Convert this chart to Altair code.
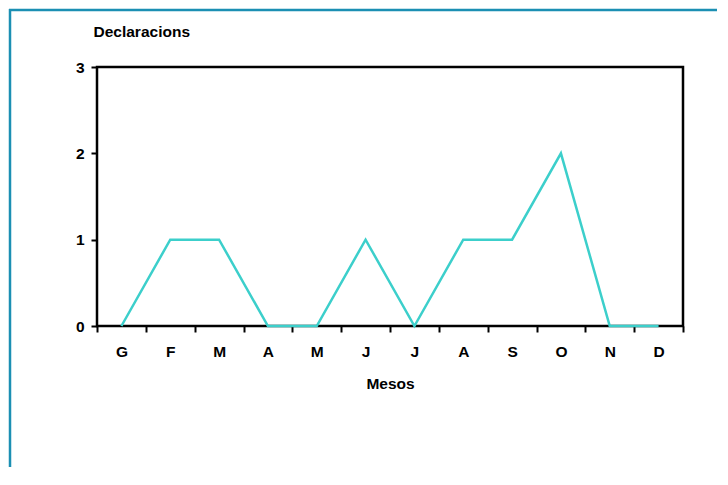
import altair as alt
import pandas as pd

months = ["G", "F", "M", "A", "M", "J", "J", "A", "S", "O", "N", "D"]
values = [0, 1, 1, 0, 0, 1, 0, 1, 1, 2, 0, 0]
y_ticks = [0, 1, 2, 3]

df = pd.DataFrame({"idx": list(range(len(months))), "mes": months, "v": values})
label_expr = "[" + ",".join("'%s'" % m for m in months) + "][datum.value]"

FONT = "Liberation Sans"
FS = 15.5
BORDER = "#1B8FB3"

line = alt.Chart(df).mark_line(color="#3CCFCB", strokeWidth=2.5).encode(
    x=alt.X(
        "idx:O",
        bandPosition=0.5,
        scale=alt.Scale(type="band", paddingInner=0, paddingOuter=0),
        axis=alt.Axis(
            title="Mesos",
            labelExpr=label_expr,
            labelAngle=0,
            tickBand="extent",
            grid=False,
            domain=False,
            tickSize=6,
            tickWidth=2,
            tickColor="black",
            labelPadding=12,
            titlePadding=17,
        ),
    ),
    y=alt.Y(
        "v:Q",
        scale=alt.Scale(domain=[0, 3]),
        axis=alt.Axis(
            title="Declaracions",
            values=y_ticks,
            format="d",
            grid=False,
            domain=False,
            tickSize=6,
            tickWidth=2,
            tickColor="black",
            labelPadding=7,
            titleAngle=0,
            titleAlign="left",
            titleBaseline="middle",
            titleX=-4,
            titleY=-36,
        ),
    ),
)

one = pd.DataFrame({"k": [0]})
border_left = alt.Chart(one).mark_rule(color=BORDER, strokeWidth=2.5, clip=False).encode(
    x=alt.value(-87), y=alt.value(-58), y2=alt.value(400)
)
border_top = alt.Chart(one).mark_rule(color=BORDER, strokeWidth=2.5, clip=False).encode(
    x=alt.value(-88), x2=alt.value(640), y=alt.value(-57)
)

chart = (
    alt.layer(border_left, border_top, line)
    .properties(
        width=586,
        height=259,
        autosize=alt.AutoSizeParams(type="none"),
        padding={"left": 89, "top": 59, "right": 34, "bottom": 141},
    )
    .configure_view(stroke="black", strokeWidth=2.5)
    .configure_axis(
        labelFont=FONT, titleFont=FONT,
        labelFontSize=FS, titleFontSize=FS,
        labelFontWeight="bold", titleFontWeight="bold",
        labelColor="black", titleColor="black",
    )
)

chart.save("out.html", embed_options={"renderer": "svg", "actions": False})
